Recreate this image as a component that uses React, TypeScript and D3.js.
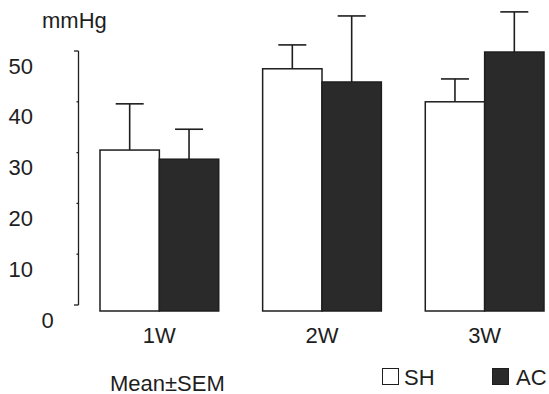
import * as d3 from "d3";

const weeks = ["1W", "2W", "3W"];
const groups = ["SH", "AC"];
const shMean = [30.5, 46.5, 40.0];
const shSem = [9.1, 4.7, 4.5];
const acMean = [28.7, 43.9, 49.8];
const acSem = [5.9, 13.0, 7.9];
const yTicks = [0, 10, 20, 30, 40, 50];

const W = 549;
const H = 394;
const font = "'Liberation Sans', Arial, Helvetica, sans-serif";
const ink = "#1e1e1e";
const darkFill = "#2a2a2a";
const fs = 22;

export default function App() {
  const y = d3.scaleLinear().domain([0, 50]).range([305, 51]);
  const x = d3.scaleBand().domain(weeks).range([100, 544]).paddingInner(0.27).paddingOuter(0);
  const inner = d3.scaleBand().domain(groups).range([0, x.bandwidth()]).padding(0);
  const baseline = y(0) + 6; // bars sit a little below the axis end in the original

  const rows = weeks.flatMap((w, i) => [
    { week: w, group: "SH", mean: shMean[i], sem: shSem[i] },
    { week: w, group: "AC", mean: acMean[i], sem: acSem[i] },
  ]);

  const capW = 28;

  return (
    <div style={{ position: "absolute", left: 0, top: 0 }}>
      <svg width={W} height={H} style={{ display: "block", background: "#fff" }}>
        <text x={42} y={28} fontFamily={font} fontSize={fs} fill={ink}>
          mmHg
        </text>

        {/* y axis bracket */}
        <g stroke={ink} strokeWidth={1.3} fill="none">
          <line x1={78.5} x2={78.5} y1={y(50)} y2={y(0)} />
          {yTicks.map((t) => (
            <line
              key={t}
              x1={t === 0 || t === 50 ? 74 : 76.5}
              x2={78.5}
              y1={y(t)}
              y2={y(t)}
            />
          ))}
        </g>
        {yTicks.map((t) => (
          <text
            key={t}
            x={t === 0 ? 47.5 : 33}
            y={y(t) + 15}
            textAnchor={t === 0 ? "middle" : "end"}
            dominantBaseline="central"
            fontFamily={font}
            fontSize={fs}
            fill={ink}
          >
            {t}
          </text>
        ))}

        {/* error bars */}
        <g stroke={ink} strokeWidth={1.6}>
          {rows.map((d) => {
            const cx = (x(d.week) as number) + (inner(d.group) as number) + inner.bandwidth() / 2;
            return (
              <g key={d.week + d.group}>
                <line x1={cx} x2={cx} y1={y(d.mean)} y2={y(d.mean + d.sem)} />
                <line x1={cx - capW / 2} x2={cx + capW / 2} y1={y(d.mean + d.sem)} y2={y(d.mean + d.sem)} />
              </g>
            );
          })}
        </g>

        {/* bars */}
        {rows.map((d) => (
          <rect
            key={d.week + d.group}
            x={(x(d.week) as number) + (inner(d.group) as number)}
            y={y(d.mean)}
            width={inner.bandwidth()}
            height={baseline - y(d.mean)}
            fill={d.group === "SH" ? "#fff" : darkFill}
            stroke={ink}
            strokeWidth={1.5}
          />
        ))}

        {weeks.map((w) => (
          <text
            key={w}
            x={(x(w) as number) + x.bandwidth() / 2}
            y={335}
            textAnchor="middle"
            dominantBaseline="central"
            fontFamily={font}
            fontSize={fs}
            fill={ink}
          >
            {w}
          </text>
        ))}

        <text x={110} y={383} dominantBaseline="central" fontFamily={font} fontSize={fs} fill={ink}>
          Mean±SEM
        </text>

        {/* legend */}
        <rect x={382.5} y={368.5} width={16} height={16} fill="#fff" stroke={ink} strokeWidth={1} />
        <text x={404} y={377} dominantBaseline="central" fontFamily={font} fontSize={fs} fill={ink}>
          SH
        </text>
        <rect x={492.5} y={368.5} width={16} height={16} fill={darkFill} stroke={ink} strokeWidth={1} />
        <text x={516} y={377} dominantBaseline="central" fontFamily={font} fontSize={fs} fill={ink}>
          AC
        </text>
      </svg>
    </div>
  );
}
